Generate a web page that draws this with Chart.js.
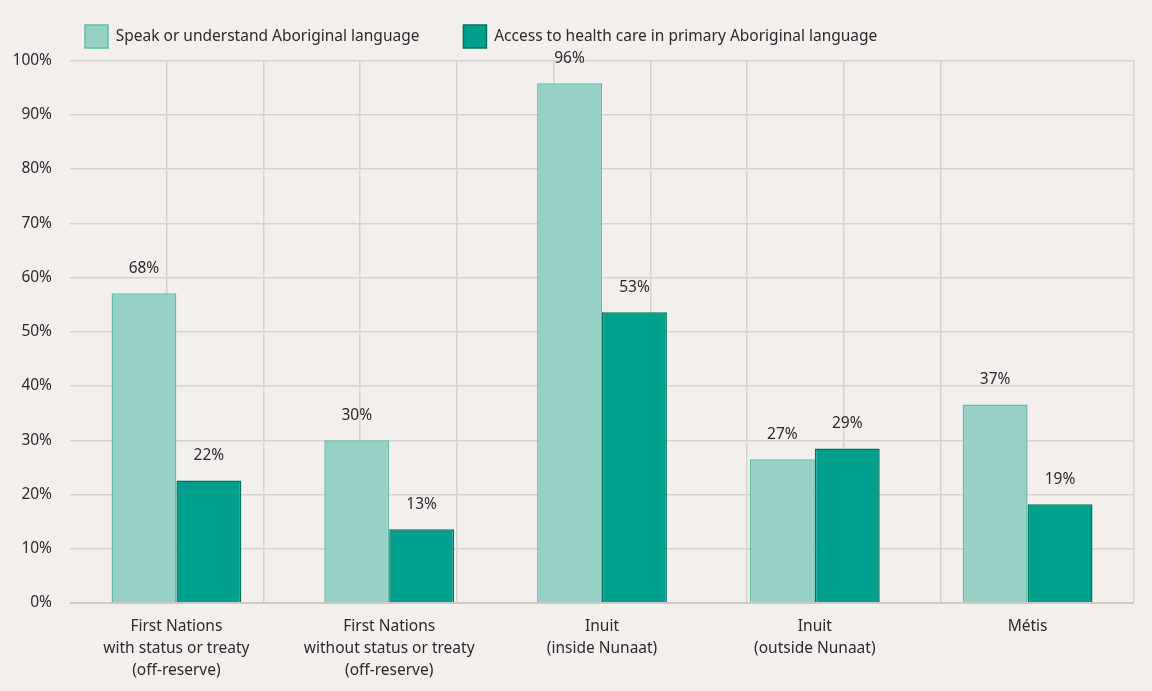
<!DOCTYPE html>
<html>
<head>
<meta charset="utf-8">
<script src="https://cdn.jsdelivr.net/npm/chart.js@4"></script>
<style>
  body { margin: 0; background: #f3efec; }
  #wrap { width: 1152px; height: 691px; }
</style>
</head>
<body>
<div id="wrap"><canvas id="myChart"></canvas></div>
<script>
const categories = [
  ["First Nations", "with status or treaty", "(off-reserve)"],
  ["First Nations", "without status or treaty", "(off-reserve)"],
  ["Inuit", "(inside Nunaat)"],
  ["Inuit", "(outside Nunaat)"],
  ["Métis"],
];
const speakValues = [57.1, 30.0, 95.8, 26.5, 36.6];
const accessValues = [22.6, 13.6, 53.6, 28.5, 18.2];
const speakLabels = ["68%", "30%", "96%", "27%", "37%"];
const accessLabels = ["22%", "13%", "53%", "29%", "19%"];
const yTickValues = [0, 10, 20, 30, 40, 50, 60, 70, 80, 90, 100];

const textColor = "#2b2b2b";
const gridColor = "#d9d3cd";
const fontFamily = "'Noto Sans', Lato, sans-serif";
const fontSize = 15.5;

const barLabels = {
  id: "barLabels",
  afterDatasetsDraw(chart) {
    const c = chart.ctx;
    const texts = [speakLabels, accessLabels];
    c.save();
    c.font = fontSize + "px " + fontFamily;
    c.fillStyle = textColor;
    c.textAlign = "center";
    c.textBaseline = "middle";
    chart.data.datasets.forEach((ds, di) => {
      chart.getDatasetMeta(di).data.forEach((bar, i) => {
        c.fillText(texts[di][i], bar.x, bar.y - 25);
      });
    });
    c.restore();
  },
};

// legend sits left of centre in the original
const shiftLegend = {
  id: "shiftLegend",
  afterLayout(chart) {
    chart.legend.left = 41;
  },
};

new Chart(document.getElementById("myChart"), {
  type: "bar",
  data: {
    labels: categories,
    datasets: [
      {
        label: "Speak or understand Aboriginal language",
        data: speakValues,
        backgroundColor: "#97d0c5",
        borderColor: "#5cbdab",
        borderWidth: 1.5,
      },
      {
        label: "Access to health care in primary Aboriginal language",
        data: accessValues,
        backgroundColor: "#00a08f",
        borderColor: "#00705f",
        borderWidth: 1.5,
      },
    ],
  },
  options: {
    responsive: true,
    maintainAspectRatio: false,
    animation: false,
    layout: { padding: { top: -19, right: 18, left: 0, bottom: 0 } },
    datasets: {
      bar: { categoryPercentage: 0.61, barPercentage: 1 },
    },
    plugins: {
      legend: {
        align: "start",
        labels: {
          boxWidth: 23,
          boxHeight: 23,
          padding: 44,
          color: textColor,
          font: { family: fontFamily, size: fontSize },
        },
      },
      tooltip: { enabled: false },
    },
    scales: {
      x: {
        grid: { display: false },
        border: { display: false },
        ticks: {
          color: textColor,
          padding: 5,
          font: { family: fontFamily, size: fontSize, lineHeight: 1.42 },
        },
        afterFit(scale) {
          scale.height = 88;
        },
      },
      xGrid: {
        type: "linear",
        position: "top",
        min: -0.5,
        max: 4.5,
        ticks: { display: false, stepSize: 0.5 },
        grid: {
          drawTicks: false,
          color: (ctx) =>
            ctx.tick && (ctx.tick.value === -0.5 || ctx.tick.value === 4.5)
              ? "rgba(0,0,0,0)"
              : gridColor,
          lineWidth: 1.5,
        },
        border: { display: false },
        afterFit(scale) {
          scale.height = 2.5;
        },
      },
      y: {
        min: 0,
        max: 100,
        afterBuildTicks(scale) {
          scale.ticks = yTickValues.map((v) => ({ value: v }));
        },
        ticks: {
          color: textColor,
          padding: 18,
          font: { family: fontFamily, size: fontSize },
          callback: (v) => v + "%",
        },
        grid: {
          drawTicks: false,
          color: (ctx) => (ctx.tick && ctx.tick.value === 0 ? "#cfc8c1" : gridColor),
          lineWidth: (ctx) => (ctx.tick && ctx.tick.value === 0 ? 2 : 1.5),
        },
        border: { display: false },
        afterFit(scale) {
          scale.width = 70;
        },
      },
    },
  },
  plugins: [barLabels, shiftLegend],
});
</script>
</body>
</html>
